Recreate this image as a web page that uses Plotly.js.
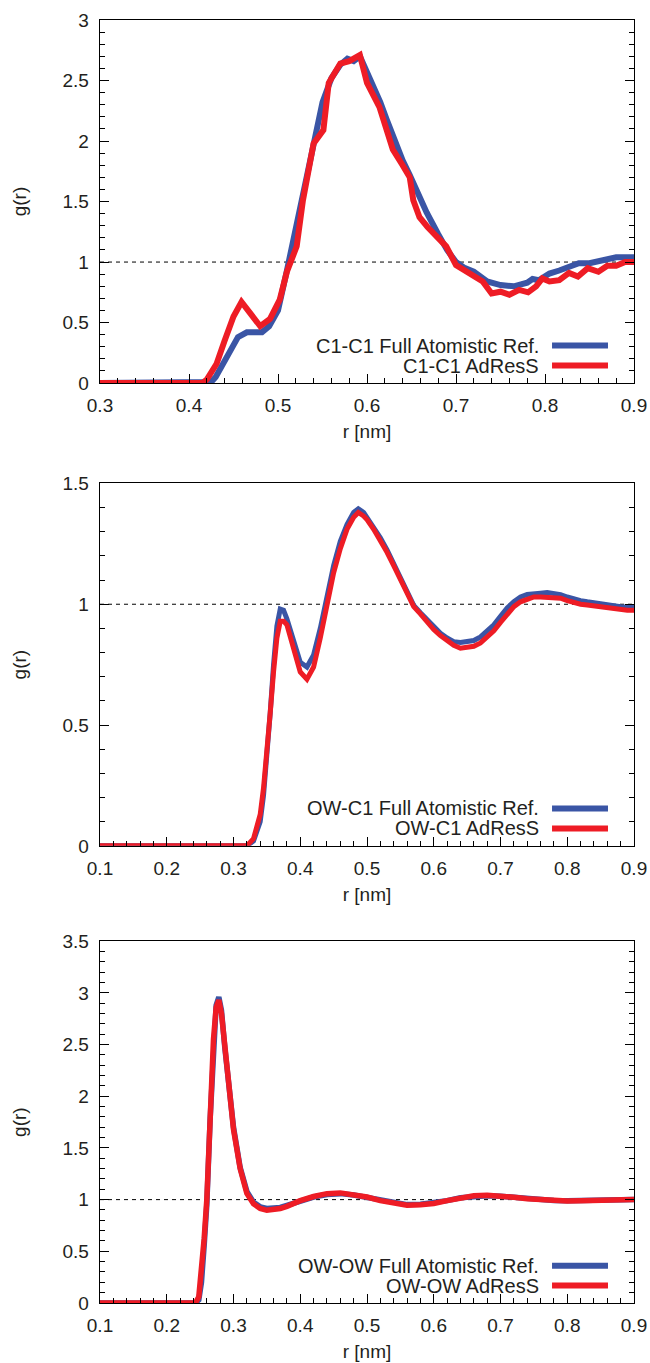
<!DOCTYPE html>
<html>
<head>
<meta charset="utf-8">
<script src="https://cdn.plot.ly/plotly-3.0.1.min.js"></script>
<style>html,body{margin:0;padding:0;background:#fff;}#chart{width:650px;height:1363px;}</style>
</head>
<body>
<div id="chart"></div>
<script>
// ---------- Data: C1-C1 ----------
const c1RefR = [0.30, 0.42, 0.425, 0.43, 0.44, 0.45, 0.455, 0.465, 0.475, 0.482, 0.49, 0.50, 0.51, 0.52, 0.53, 0.54, 0.55, 0.56, 0.57, 0.578, 0.585, 0.592, 0.60, 0.607, 0.615, 0.622, 0.633, 0.64, 0.648, 0.657, 0.667, 0.68, 0.69, 0.70, 0.71, 0.72, 0.735, 0.75, 0.765, 0.78, 0.786, 0.793, 0.805, 0.816, 0.827, 0.838, 0.85, 0.86, 0.87, 0.88, 0.89, 0.90];
const c1RefG = [0, 0, 0.01, 0.05, 0.19, 0.32, 0.38, 0.42, 0.42, 0.42, 0.47, 0.60, 0.93, 1.28, 1.65, 2.00, 2.32, 2.52, 2.63, 2.68, 2.66, 2.70, 2.57, 2.46, 2.32, 2.18, 1.96, 1.84, 1.72, 1.57, 1.41, 1.23, 1.10, 1.00, 0.95, 0.92, 0.84, 0.81, 0.80, 0.83, 0.86, 0.85, 0.905, 0.93, 0.96, 0.99, 0.99, 1.01, 1.03, 1.04, 1.04, 1.04];
const c1AdrR = [0.30, 0.415, 0.42, 0.431, 0.44, 0.45, 0.459, 0.47, 0.48, 0.491, 0.502, 0.51, 0.521, 0.528, 0.54, 0.551, 0.557, 0.57, 0.58, 0.592, 0.60, 0.614, 0.629, 0.64, 0.648, 0.652, 0.659, 0.668, 0.678, 0.689, 0.70, 0.71, 0.72, 0.73, 0.74, 0.75, 0.76, 0.771, 0.781, 0.79, 0.797, 0.805, 0.816, 0.827, 0.837, 0.848, 0.86, 0.87, 0.88, 0.89, 0.90];
const c1AdrG = [0, 0, 0.03, 0.16, 0.35, 0.55, 0.67, 0.57, 0.47, 0.53, 0.69, 0.92, 1.13, 1.51, 1.98, 2.09, 2.48, 2.64, 2.66, 2.71, 2.48, 2.28, 1.93, 1.80, 1.70, 1.51, 1.37, 1.29, 1.21, 1.13, 0.975, 0.93, 0.89, 0.84, 0.74, 0.755, 0.73, 0.77, 0.75, 0.80, 0.865, 0.84, 0.85, 0.91, 0.88, 0.95, 0.92, 0.97, 0.97, 1.00, 1.00];

// ---------- Data: OW-C1 ----------
const owc1R = [0.10, 0.32, 0.33, 0.34, 0.345, 0.35, 0.355, 0.36, 0.365, 0.37, 0.375, 0.38, 0.39, 0.40, 0.41, 0.42, 0.43, 0.44, 0.45, 0.46, 0.47, 0.48, 0.487, 0.495, 0.50, 0.51, 0.52, 0.53, 0.54, 0.55, 0.56, 0.57, 0.58, 0.59, 0.60, 0.61, 0.62, 0.63, 0.64, 0.65, 0.66, 0.67, 0.68, 0.69, 0.70, 0.71, 0.72, 0.73, 0.74, 0.75, 0.76, 0.77, 0.78, 0.79, 0.80, 0.81, 0.82, 0.83, 0.84, 0.85, 0.86, 0.87, 0.88, 0.89, 0.90];
const owc1Ref = [0, 0, 0.02, 0.10, 0.21, 0.36, 0.55, 0.75, 0.91, 0.98, 0.975, 0.94, 0.85, 0.76, 0.74, 0.79, 0.90, 1.03, 1.16, 1.26, 1.33, 1.38, 1.395, 1.38, 1.36, 1.32, 1.275, 1.225, 1.17, 1.11, 1.05, 0.995, 0.965, 0.935, 0.905, 0.88, 0.86, 0.845, 0.842, 0.845, 0.85, 0.865, 0.89, 0.915, 0.95, 0.985, 1.01, 1.03, 1.04, 1.045, 1.045, 1.048, 1.045, 1.04, 1.03, 1.02, 1.015, 1.01, 1.005, 1.00, 0.995, 0.99, 0.99, 0.988, 0.988];
const owc1Adr = [0, 0, 0.03, 0.13, 0.24, 0.38, 0.55, 0.72, 0.86, 0.93, 0.93, 0.915, 0.82, 0.72, 0.69, 0.74, 0.86, 1.00, 1.13, 1.23, 1.31, 1.36, 1.38, 1.365, 1.35, 1.31, 1.265, 1.215, 1.16, 1.105, 1.045, 0.99, 0.96, 0.925, 0.895, 0.87, 0.85, 0.83, 0.818, 0.82, 0.826, 0.84, 0.865, 0.89, 0.925, 0.96, 0.99, 1.01, 1.02, 1.03, 1.03, 1.03, 1.03, 1.025, 1.015, 1.005, 1.00, 0.997, 0.993, 0.99, 0.985, 0.98, 0.978, 0.975, 0.975];

// ---------- Data: OW-OW ----------
const owowR = [0.10, 0.243, 0.248, 0.252, 0.256, 0.26, 0.265, 0.27, 0.274, 0.278, 0.282, 0.287, 0.293, 0.30, 0.31, 0.32, 0.33, 0.34, 0.35, 0.36, 0.37, 0.38, 0.40, 0.42, 0.44, 0.46, 0.48, 0.50, 0.52, 0.54, 0.56, 0.58, 0.60, 0.62, 0.64, 0.66, 0.68, 0.70, 0.72, 0.74, 0.76, 0.78, 0.80, 0.82, 0.84, 0.86, 0.88, 0.90];
const owowRef = [0, 0, 0.03, 0.20, 0.55, 0.95, 1.78, 2.55, 2.88, 2.96, 2.83, 2.47, 2.07, 1.70, 1.31, 1.08, 0.975, 0.93, 0.915, 0.915, 0.925, 0.945, 0.99, 1.025, 1.05, 1.058, 1.045, 1.02, 0.99, 0.966, 0.952, 0.955, 0.968, 0.99, 1.018, 1.033, 1.038, 1.033, 1.02, 1.008, 0.998, 0.992, 0.99, 0.99, 0.993, 0.997, 1.0, 1.0];
const owowAdr = [0, 0, 0.06, 0.30, 0.62, 1.00, 1.80, 2.55, 2.86, 2.93, 2.80, 2.45, 2.05, 1.68, 1.30, 1.06, 0.96, 0.915, 0.897, 0.90, 0.914, 0.935, 0.99, 1.03, 1.058, 1.065, 1.05, 1.025, 0.99, 0.962, 0.946, 0.95, 0.963, 0.99, 1.02, 1.038, 1.043, 1.037, 1.022, 1.008, 0.997, 0.99, 0.987, 0.988, 0.992, 0.996, 0.999, 1.00];

const legendRef = ["C1-C1 Full Atomistic Ref.", "OW-C1 Full Atomistic Ref.", "OW-OW Full Atomistic Ref."];
const legendAdr = ["C1-C1 AdResS", "OW-C1 AdResS", "OW-OW AdResS"];
const xRanges = [[0.3, 0.9], [0.1, 0.9], [0.1, 0.9]];
const yRanges = [[0, 3], [0, 1.5], [0, 3.5]];
const refLevel = 1;

// ---------- Styling ----------
const BLUE = '#3a55a5';
const RED = '#ee1c25';
const TXT = '#231f20';
const FONT = 'Liberation Sans, Arial, Helvetica, sans-serif';
const widths = [6, 5, 5.5];

const series = [
  [c1RefR, c1RefG, c1AdrR, c1AdrG],
  [owc1R, owc1Ref, owc1R, owc1Adr],
  [owowR, owowRef, owowR, owowAdr]
];

const domains = [[0.7170, 1.0], [0.3563, 0.6388], [0.0, 0.2820]];

const traces = [];
const layout = {
  width: 650, height: 1363,
  margin: {l: 100, r: 16, t: 20, b: 60},
  paper_bgcolor: '#fff', plot_bgcolor: '#fff',
  showlegend: false,
  font: {family: FONT, size: 19, color: TXT},
  shapes: [], annotations: []
};

series.forEach((s, i) => {
  const n = i === 0 ? '' : String(i + 1);
  const xa = 'x' + n, ya = 'y' + n;
  traces.push({x: s[0], y: s[1], xaxis: xa, yaxis: ya, type: 'scatter', mode: 'lines',
    line: {color: BLUE, width: widths[i]}, name: legendRef[i]});
  traces.push({x: s[2], y: s[3], xaxis: xa, yaxis: ya, type: 'scatter', mode: 'lines',
    line: {color: RED, width: widths[i]}, name: legendAdr[i]});

  layout['xaxis' + n] = {
    domain: [0, 1], anchor: ya, range: xRanges[i], tick0: 0.1, dtick: 0.1,
    showgrid: false, zeroline: false, showline: true, mirror: true,
    linecolor: '#000', linewidth: 1.3,
    ticks: 'inside', ticklen: 9, tickwidth: 1, tickcolor: '#000',
    minor: {dtick: 0.02, ticks: 'inside', ticklen: 5, tickwidth: 1, tickcolor: '#000'},
    tickfont: {family: FONT, size: 19, color: TXT},
    ticklabelstandoff: 5,
    title: {text: 'r [nm]', font: {family: FONT, size: 19, color: TXT}, standoff: 9}
  };
  layout['yaxis' + n] = {
    domain: domains[i], anchor: xa, range: yRanges[i], tick0: 0, dtick: 0.5,
    showgrid: false, zeroline: false, showline: true, mirror: 'ticks',
    linecolor: '#000', linewidth: 1.3,
    ticks: 'inside', ticklen: 9, tickwidth: 1, tickcolor: '#000',
    minor: {dtick: 0.1, ticks: 'inside', ticklen: 5, tickwidth: 1, tickcolor: '#000'},
    tickfont: {family: FONT, size: 19, color: TXT},
    ticklabelstandoff: 6,
    title: {text: 'g(r)', font: {family: FONT, size: 19, color: TXT}, standoff: 30}
  };

  // dashed reference line at g(r) = 1
  layout.shapes.push({type: 'line', xref: xa + ' domain', yref: ya,
    x0: 0, x1: 1, y0: refLevel, y1: refLevel, layer: 'below',
    line: {color: '#000', width: 1, dash: '4px,4px'}});

  // legend (text on the left, sample on the right)
  const rows = [[legendRef[i], BLUE, 0.1033], [legendAdr[i], RED, 0.0482]];
  rows.forEach(([label, col, yy]) => {
    layout.annotations.push({xref: xa + ' domain', yref: ya + ' domain', x: 0.826, y: yy,
      xanchor: 'right', yanchor: 'middle', text: label, showarrow: false,
      font: {family: FONT, size: 20, color: TXT}});
    layout.shapes.push({type: 'line', xref: xa + ' domain', yref: ya + ' domain',
      x0: 0.8465, x1: 0.9513, y0: yy, y1: yy, line: {color: col, width: 6}});
  });
});

Plotly.newPlot('chart', traces, layout, {staticPlot: true, displayModeBar: false});
</script>
</body>
</html>
